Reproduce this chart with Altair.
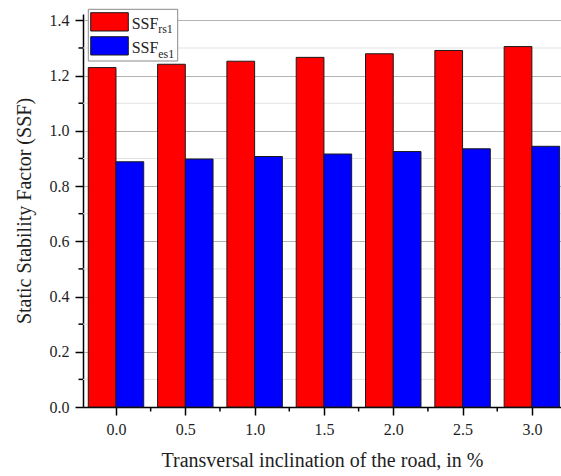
import altair as alt
import pandas as pd

# Transversal inclination of the road (%) and the two static stability factors
inclination = [0.0, 0.5, 1.0, 1.5, 2.0, 2.5, 3.0]
ssf_rs1 = [1.229, 1.241, 1.252, 1.266, 1.279, 1.291, 1.305]
ssf_es1 = [0.888, 0.898, 0.907, 0.916, 0.925, 0.935, 0.944]

series_keys = ["rs1", "es1"]
series_colors = ["#ff0000", "#0000ff"]

major_y = [0.0, 0.2, 0.4, 0.6, 0.8, 1.0, 1.2, 1.4]
minor_y = [0.1, 0.3, 0.5, 0.7, 0.9, 1.1, 1.3]
major_x = inclination
minor_x = [0.25, 0.75, 1.25, 1.75, 2.25, 2.75]

rows = []
for inc, rs, es in zip(inclination, ssf_rs1, ssf_es1):
    rows.append({"incl": inc, "series": "rs1", "ssf": rs})
    rows.append({"incl": inc, "series": "es1", "ssf": es})
bars_df = pd.DataFrame(rows)

FONT = "Liberation Serif"
TEXT = "#1e1e1e"
W, H = 478, 393

x_scale = alt.Scale(domain=[-0.238, 3.21], nice=False, zero=False)
y_scale = alt.Scale(domain=[0, 1.423], nice=False, zero=False)

x_axis = alt.Axis(
    values=major_x, format=".1f", title="Transversal inclination of the road, in %",
    grid=False, tickSize=8, tickWidth=1.5, tickColor="black",
    domainColor="black", domainWidth=1.5,
    labelFont=FONT, labelFontSize=16, labelColor=TEXT, labelPadding=6, labelFlush=False,
    titleFont=FONT, titleFontSize=20, titleFontWeight="normal", titleColor=TEXT,
    titlePadding=13,
)
y_axis = alt.Axis(
    values=major_y, format=".1f", title="Static Stability Factor (SSF)",
    grid=True, gridColor="#b4b4b4", gridWidth=1,
    tickSize=8, tickWidth=1.5, tickColor="black",
    domainColor="black", domainWidth=1.5,
    labelFont=FONT, labelFontSize=16, labelColor=TEXT, labelPadding=6, labelFlush=False,
    titleFont=FONT, titleFontSize=20, titleFontWeight="normal", titleColor=TEXT,
    titlePadding=15,
)

bars = alt.Chart(bars_df).transform_calculate(
    x0="datum.incl + (datum.series == 'rs1' ? -0.2 : 0)",
    x1="datum.incl + (datum.series == 'rs1' ? 0 : 0.2)",
).mark_rect(stroke="#1a1a1a", strokeWidth=1).encode(
    x=alt.X("x0:Q", scale=x_scale, axis=x_axis),
    x2="x1:Q",
    y=alt.Y("ssf:Q", scale=y_scale, axis=y_axis),
    y2=alt.datum(0),
    color=alt.Color("series:N", scale=alt.Scale(domain=series_keys, range=series_colors), legend=None),
)

minor_df = pd.DataFrame({"v": minor_y})
minor_grid = alt.Chart(minor_df).mark_rule(color="#e2e2e2", strokeWidth=1).encode(
    y=alt.Y("v:Q", scale=y_scale, axis=y_axis),
)
minor_yticks = alt.Chart(minor_df).mark_rule(color="black", strokeWidth=1.5).encode(
    y=alt.Y("v:Q", scale=y_scale, axis=y_axis),
    x=alt.value(0),
    x2=alt.value(-4.5),
)
minor_xticks = alt.Chart(pd.DataFrame({"v": minor_x})).mark_rule(color="black", strokeWidth=1.5).encode(
    x=alt.X("v:Q", scale=x_scale, axis=x_axis),
    y=alt.value(H),
    y2=alt.value(H + 4.5),
)

# Legend drawn inside the plot, with subscripted series names
one = pd.DataFrame({"k": [0]})
legend_box = alt.Chart(one).mark_rect(fill="white", stroke="#8a8a8a", strokeWidth=1).encode(
    x=alt.value(5.3), x2=alt.value(94.7), y=alt.value(-4.7), y2=alt.value(47),
)


def legend_entry(key, color, top, baseline):
    swatch = alt.Chart(one).mark_rect(fill=color, stroke="#1a1a1a", strokeWidth=1).encode(
        x=alt.value(7.7), x2=alt.value(45.3), y=alt.value(top), y2=alt.value(top + 18.3),
    )
    main = alt.Chart(one).mark_text(
        text="SSF", font=FONT, fontSize=16, color=TEXT, align="left", baseline="alphabetic",
    ).encode(x=alt.value(48.7), y=alt.value(baseline))
    sub = alt.Chart(one).mark_text(
        text=key, font=FONT, fontSize=12, color=TEXT, align="left", baseline="alphabetic",
    ).encode(x=alt.value(75.2), y=alt.value(baseline + 4.3))
    return [swatch, main, sub]


legend_layers = [legend_box]
legend_layers += legend_entry("rs1", series_colors[0], -1.3, 14.7)
legend_layers += legend_entry("es1", series_colors[1], 22.7, 39.3)

chart = alt.layer(
    minor_grid, bars, minor_yticks, minor_xticks, *legend_layers
).properties(
    width=W, height=H,
    autosize=alt.AutoSizeParams(type="none"),
    padding={"left": 83, "top": 14, "right": 0, "bottom": 69},
    background="white",
).configure_view(stroke=None)

chart.save("out.html", embed_options={"renderer": "svg", "actions": False})
